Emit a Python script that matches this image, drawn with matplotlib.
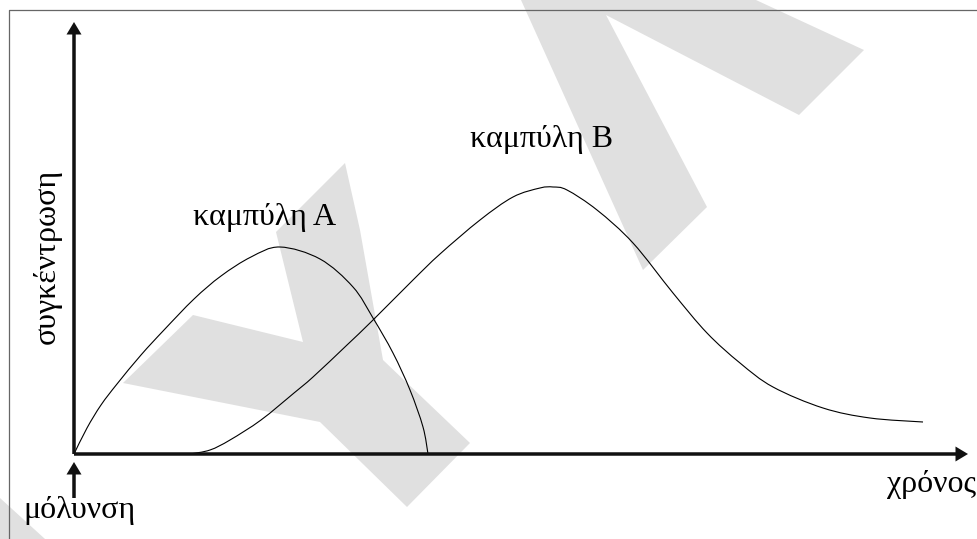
import matplotlib.pyplot as plt
from matplotlib.patches import Polygon, PathPatch
from matplotlib.path import Path

# curve A (time, concentration), arbitrary units
time_a = [0, 1.3, 2.7, 4.3, 6.7, 9.0, 12.0, 14.7, 17.7, 20.6, 24.6,
          27.9, 29.9, 31.9, 33.6, 34.9, 35.4]
conc_a = [0, 2.6, 4.9, 7.0, 9.9, 12.4, 15.5, 17.8, 19.7, 20.7, 19.5,
          16.7, 13.6, 10.1, 6.4, 2.7, 0]

# curve B
time_b = [11.6, 13.6, 15.6, 18.7, 22.0, 23.9, 27.3, 29.8, 33.9, 36.6, 40.6,
          43.9, 46.6, 47.9, 49.3, 52.3, 55.9, 59.9, 63.3, 66.6, 69.9, 74.9,
          79.6, 84.9]
conc_b = [0, 0.4, 1.4, 3.4, 6.1, 7.7, 10.9, 13.3, 17.4, 20.0, 23.4, 25.7,
          26.6, 26.7, 26.4, 24.4, 21.1, 16.1, 12.1, 9.1, 6.7, 4.6, 3.6, 3.2]

label_a = "καμπύλη Α"
label_b = "καμπύλη Β"
x_label = "χρόνος"
y_label = "συγκέντρωση"
start_label = "μόλυνση"

# light grey watermark shapes (image pixels)
wm_y = [(276, 232), (345, 163), (360, 230), (383, 360), (470, 443),
        (407, 507), (320, 422), (123, 383), (193, 315), (303, 342)]
wm_l = [(521, 0), (643, 270), (707, 207), (606, 15), (799, 115),
        (864, 50), (756, 0)]
wm_c = [(0, 498), (45, 539), (0, 539)]

W, H = 978, 539
OX, OY = 74, 454


def to_data(pts):
    return [((x - OX) / 10, (OY - y) / 10) for x, y in pts]


def smooth_path(xs, ys):
    # Catmull-Rom through the points, drawn as cubic Bezier segments
    pts = list(zip(xs, ys))
    verts = [pts[0]]
    codes = [Path.MOVETO]
    n = len(pts)
    for i in range(n - 1):
        p0 = pts[max(i - 1, 0)]
        p1 = pts[i]
        p2 = pts[i + 1]
        p3 = pts[min(i + 2, n - 1)]
        c1 = (p1[0] + (p2[0] - p0[0]) / 6, p1[1] + (p2[1] - p0[1]) / 6)
        c2 = (p2[0] - (p3[0] - p1[0]) / 6, p2[1] - (p3[1] - p1[1]) / 6)
        verts += [c1, c2, p2]
        codes += [Path.CURVE4] * 3
    return Path(verts, codes)


plt.rcParams["font.family"] = ["Liberation Serif", "DejaVu Serif"]

fig = plt.figure(figsize=(W / 100, H / 100), dpi=100)
ax = fig.add_axes([0, 0, 1, 1])
ax.set_xlim(-OX / 10, (W - OX) / 10)
ax.set_ylim((OY - H) / 10, OY / 10)
ax.axis("off")

for shape in (wm_y, wm_l, wm_c):
    ax.add_patch(Polygon(to_data(shape), closed=True, fc="#e0e0e0",
                         ec="none", zorder=0))

# frame (top and left only)
ax.plot([-6.5, -6.5, 90.4], [-8.5, 44.4, 44.4], color="#666666", lw=0.9,
        zorder=1)

for xs, ys in ((time_a, conc_a), (time_b, conc_b)):
    ax.add_patch(PathPatch(smooth_path(xs, ys), fc="none", ec="black",
                           lw=0.8, zorder=3))

arrow_kw = dict(width=0.35, head_width=1.5, head_length=1.25,
                length_includes_head=True, fc="#111111", ec="none", zorder=4)
ax.arrow(0, 0, 89.4, 0, **arrow_kw)
ax.arrow(0, 0, 0, 43.2, **arrow_kw)
ax.arrow(0, -4.4, 0, 3.6, **arrow_kw)

fs = 23
ax.text(11.9, 22.9, label_a, fontsize=fs, ha="left", va="baseline",
        zorder=5)
ax.text(39.6, 30.7, label_b, fontsize=fs, ha="left", va="baseline",
        zorder=5)
ax.text(90.2, -3.8, x_label, fontsize=fs, ha="right", va="baseline",
        zorder=5)
ax.text(-5.1, -6.4, start_label, fontsize=fs, ha="left", va="baseline",
        zorder=5)
ax.text(-2.7, 19.8, y_label, fontsize=fs, rotation=90, ha="center",
        va="center", zorder=5)

fig.savefig("out.png", dpi=100)
plt.close(fig)
